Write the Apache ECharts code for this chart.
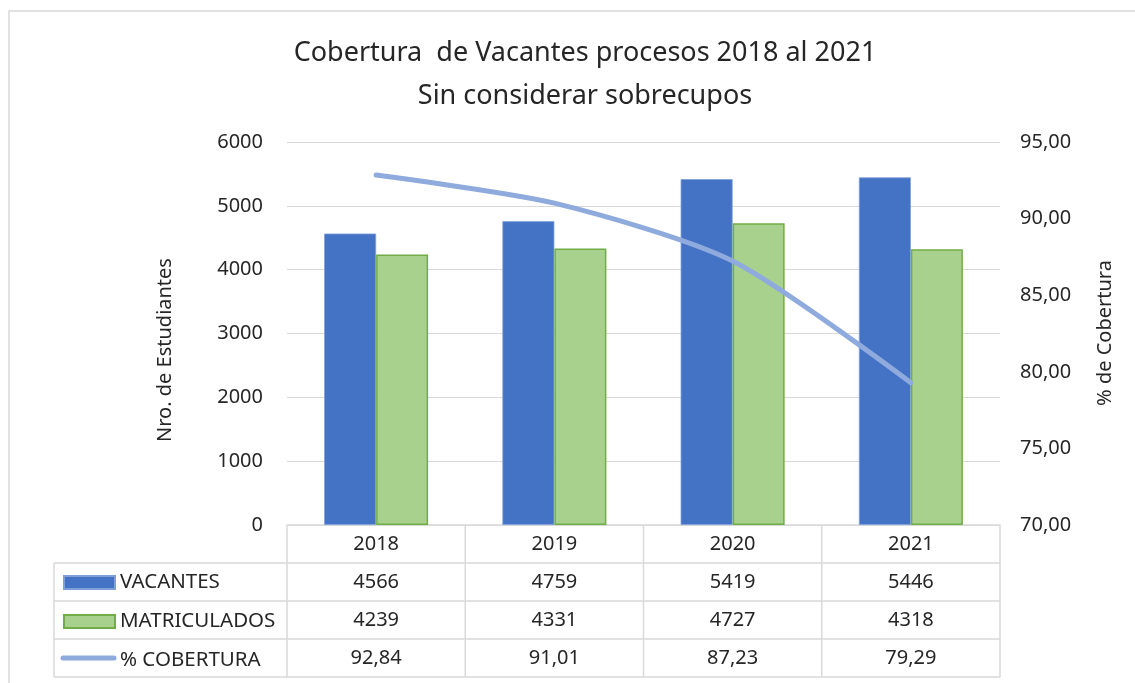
<!DOCTYPE html>
<html>
<head>
<meta charset="utf-8">
<script src="https://cdn.jsdelivr.net/npm/echarts@6/dist/echarts.min.js"></script>
<style>
  html, body { margin: 0; padding: 0; background: #fff; }
  #chart { width: 1135px; height: 683px; }
</style>
</head>
<body>
<div id="chart"></div>
<script>
var years = ['2018', '2019', '2020', '2021'];
var vacantes = [4566, 4759, 5419, 5446];
var matriculados = [4239, 4331, 4727, 4318];
var cobertura = [92.84, 91.01, 87.23, 79.29];
var seriesNames = ['VACANTES', 'MATRICULADOS', '% COBERTURA'];

var font = 'Noto Sans';
var plotLeft = 287, plotRight = 1000, plotTop = 142, plotBottom = 525;
var rowH = 38;
var legendLeft = 63, legendTop = 572;

function fmtPct(v) {
  return v.toFixed(2).replace('.', ',');
}

// tabla de datos bajo el eje
var graphics = [];
graphics.push({
  type: 'rect', shape: { x: 9, y: 11, width: 1140, height: 700 },
  style: { fill: 'none', stroke: '#d9d9d9', lineWidth: 1.5 }, silent: true
});
var colW = (plotRight - plotLeft) / years.length;
var tableBottom = plotBottom + rowH * 4;
for (var r = 1; r <= 4; r++) {
  graphics.push({
    type: 'line',
    shape: { x1: 54, y1: plotBottom + rowH * r, x2: plotRight, y2: plotBottom + rowH * r },
    style: { stroke: '#d9d9d9', lineWidth: 1.5 }
  });
}
graphics.push({
  type: 'line', shape: { x1: 54, y1: plotBottom + rowH, x2: 54, y2: tableBottom },
  style: { stroke: '#d9d9d9', lineWidth: 1.5 }
});
for (var c = 0; c <= years.length; c++) {
  graphics.push({
    type: 'line',
    shape: { x1: plotLeft + colW * c, y1: plotBottom, x2: plotLeft + colW * c, y2: tableBottom },
    style: { stroke: '#d9d9d9', lineWidth: 1.5 }
  });
}
var rows = [
  vacantes.map(String),
  matriculados.map(String),
  cobertura.map(fmtPct)
];
rows.forEach(function(vals, r) {
  vals.forEach(function(v, c) {
    graphics.push({
      type: 'text',
      x: plotLeft + colW * (c + 0.5),
      y: plotBottom + rowH * (r + 1.5),
      style: {
        text: v, fill: '#262626', font: '20px "' + font + '"',
        align: 'center', verticalAlign: 'middle'
      }
    });
  });
});
// muestra de la linea en la leyenda
graphics.push({
  type: 'line',
  shape: { x1: legendLeft, y1: plotBottom + rowH * 3.5, x2: legendLeft + 51, y2: plotBottom + rowH * 3.5 },
  style: { stroke: '#8faadc', lineWidth: 5, lineCap: 'round' }
});
graphics.push({
  type: 'text', x: 165, y: 350, rotation: Math.PI / 2,
  style: {
    text: 'Nro. de Estudiantes', fill: '#262626', font: '20px "' + font + '"',
    align: 'center', verticalAlign: 'middle'
  }
});
graphics.push({
  type: 'text', x: 1105, y: 333, rotation: Math.PI / 2,
  style: {
    text: '% de Cobertura', fill: '#262626', font: '20px "' + font + '"',
    align: 'center', verticalAlign: 'middle'
  }
});

var chart = echarts.init(document.getElementById('chart'));
var option = {
  backgroundColor: '#fff',
  animation: false,
  textStyle: { fontFamily: font },
  title: {
    text: 'Cobertura  de Vacantes procesos 2018 al 2021\nSin considerar sobrecupos',
    left: 580,
    top: 27,
    textAlign: 'center',
    textStyle: { fontSize: 27, fontWeight: 'normal', color: '#262626', lineHeight: 43, fontFamily: font }
  },
  legend: {
    orient: 'vertical',
    left: legendLeft,
    top: legendTop,
    padding: 0,
    itemWidth: 51,
    itemHeight: 13,
    itemGap: 18,
    textStyle: { fontSize: 20.5, color: '#262626', lineHeight: 20, fontFamily: font },
    data: [
      { name: seriesNames[0], icon: 'rect' },
      { name: seriesNames[1], icon: 'rect' },
      { name: seriesNames[2], icon: 'none' }
    ]
  },
  grid: { left: plotLeft, right: 1135 - plotRight, top: plotTop, bottom: 683 - plotBottom, containLabel: false },
  xAxis: {
    type: 'category',
    data: years,
    axisLine: { lineStyle: { color: '#d9d9d9', width: 1.5 } },
    axisTick: { show: false },
    axisLabel: { fontSize: 20, color: '#262626', margin: 19, verticalAlign: 'middle' }
  },
  yAxis: [
    {
      type: 'value', min: 0, max: 6000, interval: 1000,
      axisLine: { show: false }, axisTick: { show: false },
      axisLabel: { fontSize: 20, color: '#262626', margin: 24, formatter: function(v) { return String(v); } },
      splitLine: { lineStyle: { color: '#d9d9d9', width: 1.2 } }
    },
    {
      type: 'value', min: 70, max: 95, interval: 5, position: 'right',
      axisLine: { show: false }, axisTick: { show: false },
      axisLabel: { fontSize: 20, color: '#262626', margin: 20, formatter: fmtPct },
      splitLine: { show: false }
    }
  ],
  series: [
    {
      name: seriesNames[0], type: 'bar', data: vacantes, barWidth: 52, barGap: '0%',
      itemStyle: { color: '#4472c4', borderColor: '#7f9fd9', borderWidth: 0.8 }
    },
    {
      name: seriesNames[1], type: 'bar', data: matriculados, barWidth: 52,
      itemStyle: { color: '#a9d18e', borderColor: '#70ad47', borderWidth: 1.5 }
    },
    {
      name: seriesNames[2], type: 'line', yAxisIndex: 1, data: cobertura,
      smooth: 0.25, symbol: 'none',
      lineStyle: { color: '#8faadc', width: 5, cap: 'round' },
      itemStyle: { color: '#8faadc' }
    }
  ],
  graphic: graphics
};
chart.setOption(option);
</script>
</body>
</html>
